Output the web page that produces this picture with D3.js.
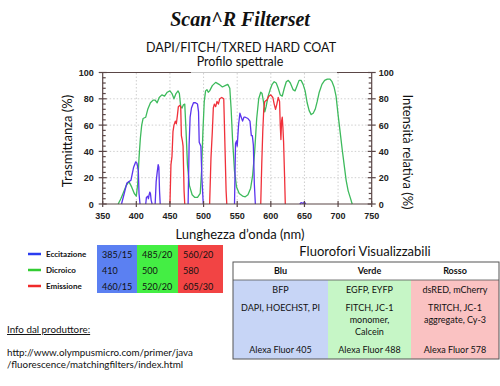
<!DOCTYPE html>
<html>
<head>
<meta charset="utf-8">
<script src="https://cdn.jsdelivr.net/npm/d3@7"></script>
<style>
  body { margin: 0; background: #fff; }
  svg { display: block; }
  text { font-family: Lato, "Open Sans", sans-serif; fill: #111; }
  .tick-lbl { font-family: "Liberation Sans", Arial, sans-serif; font-weight: bold; font-size: 9px; fill: #222; }
</style>
</head>
<body>
<script>
// spectra, [nm, %]; null breaks the line between bands
const excitation = [
  [378,0],[382,8],[386,16],[389,17],[392,18],[396,28],[399,32],[401,31],[403,25],[404,8],[405.5,0], null,
  [414,0],[415,5],[417,6],[418,4],[419,7],[420,9],[421,8],[422,3],[423.5,0], null,
  [428,0],[429.5,17],[431,24],[432.5,30],[433.5,28],[434.5,10],[435.5,0], null,
  [477,0],[478.5,45],[480,66],[482,73],[485,77],[488,77],[491,76],[492.5,70],[493.5,47],[496,44],[497.5,20],[499.5,0], null,
  [546,0],[547.5,46],[549,48],[550,44],[552,60],[554,69],[556,66],[558,63],[560,66],[562,66],[566,65],[569,63],[571,52],[572.5,52],[574,45],[575.5,15],[577,0], null,
  [643,0],[645,1],[648,0.5],[650,1.5],[652,0]
];
const dichroic = [
  [373,0],[377,4],[381,9],[385,14],[389,17],[393,13],[397,8],[400,6],[402,15],[404,35],[406,50],[408,60],[410,65],[414,66],[417,72],[421,77],[425,79],[428,79],[431,77],[434,81],[438,83],[442,82],[446,85],[450,86],[453,84],[456,80],[459,84],[462,86],[464,84],[466,74],[468,73],[470,75.5],[472,76],[474,55],[476,30],[479,14],[483,7],[487,5],[491,5],[495,8],[497,25],[499,55],[501,78],[503,86],[505,87],[507,85],[509,86],[513,90],[518,92.5],[523,91],[528,89],[532,90],[536,91],[539,88],[541,72],[543,50],[546,25],[549,13],[553,8],[558,6],[562,5.5],[566,7],[570,12],[573,22],[576,40],[579,65],[582,80],[585,85],[587,84],[589,78],[591,70],[593,74],[596,82],[599,87],[602,91],[605,93],[608,92],[611,88],[614,83],[617,82],[620,88],[623,93],[626,94],[629,92],[633,87],[636,86],[639,90],[642,94],[645,94],[648,91],[651,86],[654,77],[657,71],[660,68],[663,69],[666,72],[669,78],[672,85],[676,91],[680,94],[684,95],[688,95],[691,93],[694,89],[697,82],[700,68],[703,55],[706,42],[709,30],[712,18],[715,10],[718,5],[721,0]
];
const emission = [
  [450,0],[451.5,30],[453,36],[454.5,55],[456,60],[458,63],[459.5,61],[461,67],[462.5,74],[464.5,75],[466,74],[467,52],[468.5,48],[469.5,44],[471,10],[472,0], null,
  [509,0],[511,35],[513,55],[514.5,73],[516,76],[518,74],[520,78],[522,76],[524,80],[527,81],[530,80],[531,60],[532,40],[533.5,10],[534.5,0], null,
  [585,0],[586.5,30],[588,55],[589.5,72],[591,78],[594,79],[597,82],[600,83],[603,81],[605,76],[607,72],[609,76],[611,81],[613,78],[614,60],[615,49],[616,63],[617,66],[618,58],[619,47],[620.5,20],[621.5,0]
];

// axes
const xTicks = [350, 400, 450, 500, 550, 600, 650, 700, 750];
const yTicks = [0, 20, 40, 60, 80, 100];

// filter legend table
const legendNames = ["Eccitazione", "Dicroico", "Emissione"];
const legendColors = ["#2a3cf0", "#33cc33", "#f02a2a"];
const channelCells = [
  ["385/15", "485/20", "560/20"],
  ["410", "500", "580"],
  ["460/15", "520/20", "605/30"]
];

// fluorophore table
const fluoHeaders = ["Blu", "Verde", "Rosso"];
const fluoRows = [
  [["BFP"], ["EGFP, EYFP"], ["dsRED, mCherry"]],
  [["DAPI, HOECHST, PI"], ["FITCH, JC-1", "monomer,", "Calcein"], ["TRITCH, JC-1", "aggregate, Cy-3"]],
  [["Alexa Fluor 405"], ["Alexa Fluor 488"], ["Alexa Fluor 578"]]
];

const W = 500, H = 386;
const svg = d3.select("body").append("svg").attr("width", W).attr("height", H);

// titles
svg.append("text").attr("x", 240).attr("y", 26).attr("text-anchor", "middle")
  .style("font-family", "'Liberation Serif', 'Times New Roman', serif")
  .style("font-weight", "bold").style("font-style", "italic").style("font-size", "20px")
  .text("Scan^R Filterset");
svg.append("text").attr("x", 241).attr("y", 52).attr("text-anchor", "middle")
  .style("font-size", "12.5px").text("DAPI/FITCH/TXRED HARD COAT");
svg.append("text").attr("x", 240).attr("y", 66).attr("text-anchor", "middle")
  .style("font-size", "12.5px").text("Profilo spettrale");

// plot
const x = d3.scaleLinear().domain([350, 750]).range([102.7, 371.7]);
const y = d3.scaleLinear().domain([0, 100]).range([204, 72.5]);
const axisCol = "#5a4646";

const grid = svg.append("g").attr("stroke", "#cfcfcf").attr("stroke-dasharray", "1.5,2");
grid.selectAll(".gx").data(xTicks.slice(1, -1)).join("line")
  .attr("x1", d => x(d)).attr("x2", d => x(d)).attr("y1", y(0)).attr("y2", y(100));
grid.selectAll(".gy").data(yTicks.slice(1, -1)).join("line")
  .attr("x1", x(350)).attr("x2", x(750)).attr("y1", d => y(d)).attr("y2", d => y(d));

const line = d3.line().defined(d => d !== null).x(d => x(d[0])).y(d => y(d[1]));
const curves = [[dichroic, "#3dba5c"], [excitation, "#5a34ee"], [emission, "#f0303a"]];
svg.append("g").selectAll("path").data(curves).join("path")
  .attr("d", d => line(d[0])).attr("fill", "none").attr("stroke", d => d[1])
  .attr("stroke-width", 1.3).attr("stroke-linejoin", "round");

// frame
const frame = svg.append("g").attr("stroke", axisCol).attr("stroke-width", 1.2);
frame.append("line").attr("x1", x(350)).attr("x2", x(350)).attr("y1", y(0)).attr("y2", y(100));
frame.append("line").attr("x1", x(750)).attr("x2", x(750)).attr("y1", y(0)).attr("y2", y(100));
frame.append("line").attr("x1", x(350)).attr("x2", x(750)).attr("y1", y(0)).attr("y2", y(0));
frame.append("line").attr("x1", x(350)).attr("x2", 191).attr("y1", y(100)).attr("y2", y(100));
frame.append("line").attr("x1", 337).attr("x2", x(750)).attr("y1", y(100)).attr("y2", y(100));
svg.append("line").attr("x1", 191).attr("x2", 337).attr("y1", y(100)).attr("y2", y(100))
  .attr("stroke", "#c8c8c8").attr("stroke-width", 1.2);

// y ticks: major cross the axis, minor inside
const minorY = d3.range(0, 101, 4).filter(v => v % 20 !== 0);
[[x(350), 1], [x(750), -1]].forEach(([ax, dir]) => {
  frame.selectAll(null).data(yTicks).join("line")
    .attr("x1", ax - 4).attr("x2", ax + 4).attr("y1", d => y(d)).attr("y2", d => y(d));
  frame.selectAll(null).data(minorY).join("line")
    .attr("x1", ax).attr("x2", ax + 3 * dir).attr("y1", d => y(d)).attr("y2", d => y(d));
});
frame.selectAll(null).data(xTicks).join("line")
  .attr("x1", d => x(d)).attr("x2", d => x(d)).attr("y1", y(0) - 3).attr("y2", y(0) + 3);

svg.selectAll(".ly").data(yTicks).join("text").attr("class", "tick-lbl")
  .attr("x", x(350) - 9).attr("y", d => y(d) + 3.5).attr("text-anchor", "end").text(d => d);
svg.selectAll(".ry").data(yTicks).join("text").attr("class", "tick-lbl")
  .attr("x", x(750) + 7).attr("y", d => y(d) + 3.5).text(d => d);
svg.selectAll(".bx").data(xTicks).join("text").attr("class", "tick-lbl")
  .attr("x", d => x(d)).attr("y", 219).attr("text-anchor", "middle").text(d => d);

svg.append("text").attr("transform", "translate(72,141) rotate(-90)").attr("text-anchor", "middle")
  .style("font-size", "13px").text("Trasmittanza (%)");
svg.append("text").attr("transform", "translate(403,152) rotate(90)").attr("text-anchor", "middle")
  .style("font-size", "13px").text("Intensità relativa (%)");
svg.append("text").attr("x", 240).attr("y", 239).attr("text-anchor", "middle")
  .style("font-size", "13px").text("Lunghezza d’onda (nm)");

// filter legend
const rowY = [254, 270, 286];
legendNames.forEach((n, i) => {
  svg.append("line").attr("x1", 28).attr("x2", 41).attr("y1", rowY[i]).attr("y2", rowY[i])
    .attr("stroke", legendColors[i]).attr("stroke-width", 2.5);
  svg.append("text").attr("x", 46).attr("y", rowY[i] + 3).style("font-size", "8px")
    .style("font-weight", "bold").text(n);
});
const cellX = [97, 137, 178, 223];
const cellBg = ["#5b80f2", "#44ee44", "#f24444"];
cellBg.forEach((c, j) => {
  svg.append("rect").attr("x", cellX[j]).attr("y", 245).attr("width", cellX[j + 1] - cellX[j])
    .attr("height", 48).attr("fill", c);
});
channelCells.forEach((row, i) => row.forEach((t, j) => {
  svg.append("text").attr("x", cellX[j] + 5).attr("y", rowY[i] + 3.5).style("font-size", "9px").text(t);
}));

// fluorophore table
svg.append("text").attr("x", 365).attr("y", 256).attr("text-anchor", "middle")
  .style("font-size", "13px").text("Fluorofori Visualizzabili");
const colX = [233, 328, 411, 499];
const fluoBg = ["#c7d5f6", "#c6f6c6", "#fac2c2"];
fluoBg.forEach((c, j) => {
  svg.append("rect").attr("x", colX[j]).attr("y", 280).attr("width", colX[j + 1] - colX[j])
    .attr("height", 79).attr("fill", c);
});
svg.append("rect").attr("x", colX[0]).attr("y", 262).attr("width", colX[3] - colX[0]).attr("height", 97)
  .attr("fill", "none").attr("stroke", "#555").attr("stroke-width", 1);
svg.append("line").attr("x1", colX[0]).attr("x2", colX[3]).attr("y1", 280).attr("y2", 280)
  .attr("stroke", "#555").attr("stroke-width", 0.8);
fluoHeaders.forEach((h, j) => {
  svg.append("text").attr("x", (colX[j] + colX[j + 1]) / 2).attr("y", 274).attr("text-anchor", "middle")
    .style("font-size", "9px").style("font-weight", "bold").text(h);
});
const fluoRowY = [293, 311, 353];
fluoRows.forEach((row, i) => row.forEach((lines, j) => {
  lines.forEach((t, k) => {
    svg.append("text").attr("x", (colX[j] + colX[j + 1]) / 2).attr("y", fluoRowY[i] + k * 12)
      .attr("text-anchor", "middle").style("font-size", "9px").text(t);
  });
}));

// source info
svg.append("text").attr("x", 7).attr("y", 333).style("font-size", "9.8px")
  .style("text-decoration", "underline").text("Info dal produttore:");
svg.append("text").attr("x", 7).attr("y", 356).style("font-size", "9.8px")
  .text("http://www.olympusmicro.com/primer/java");
svg.append("text").attr("x", 7).attr("y", 368).style("font-size", "9.8px")
  .text("/fluorescence/matchingfilters/index.html");
</script>
</body>
</html>
